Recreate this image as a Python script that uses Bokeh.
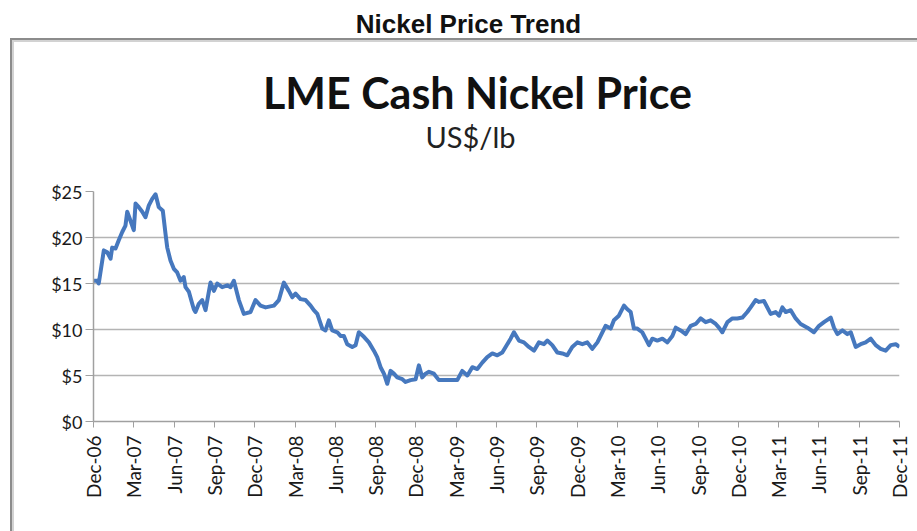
from math import pi
from bokeh.plotting import figure
from bokeh.models import FixedTicker, Range1d, LinearAxis
from bokeh.embed import file_html
from bokeh.resources import INLINE

# months elapsed since Dec-2006
month_offsets = [
    0.00, 0.28, 0.39, 0.77, 1.02, 1.27, 1.39, 1.64, 1.88, 2.14, 2.38, 2.51, 2.76, 3.00,
    3.13, 3.37, 3.63, 3.87, 4.12, 4.37, 4.62, 4.86, 5.16, 5.36, 5.49, 5.73, 5.98, 6.23,
    6.48, 6.72, 6.85, 7.10, 7.35, 7.47, 7.59, 7.84, 8.09, 8.34, 8.71, 8.96, 9.21, 9.58,
    9.96, 10.20, 10.45, 10.82, 11.19, 11.69, 12.06, 12.43, 12.81, 13.43, 13.80, 14.17,
    14.54, 14.80, 15.04, 15.41, 15.79, 16.16, 16.40, 16.66, 17.03, 17.27, 17.52, 17.77,
    18.15, 18.39, 18.64, 18.89, 19.26, 19.51, 19.75, 20.13, 20.50, 20.87, 21.12, 21.37,
    21.62, 21.87, 22.11, 22.36, 22.61, 22.99, 23.23, 23.60, 23.98, 24.22, 24.47, 24.72,
    24.97, 25.34, 25.71, 26.21, 26.71, 27.08, 27.45, 27.83, 28.20, 28.57, 28.94, 29.31,
    29.69, 30.06, 30.43, 30.68, 31.05, 31.30, 31.67, 32.04, 32.41, 32.79, 33.16, 33.53,
    33.78, 34.15, 34.53, 34.90, 35.27, 35.64, 36.02, 36.39, 36.76, 37.13, 37.51, 37.88,
    38.12, 38.50, 38.74, 39.11, 39.49, 39.74, 39.99, 40.23, 40.48, 40.85, 41.10, 41.35,
    41.60, 41.97, 42.35, 42.72, 43.09, 43.34, 43.71, 44.08, 44.46, 44.83, 45.20, 45.57,
    45.94, 46.32, 46.56, 46.81, 47.19, 47.56, 47.93, 48.30, 48.67, 48.92, 49.29, 49.54,
    49.91, 50.41, 50.78, 51.03, 51.28, 51.53, 51.90, 52.27, 52.64, 53.14, 53.63, 54.01,
    54.38, 54.88, 55.12, 55.38, 55.75, 56.12, 56.37, 56.74, 57.11, 57.48, 57.86, 58.23,
    58.60, 58.97, 59.35, 59.72, 60.00,
]
prices = [
    15.3, 15.3, 15.0, 18.6, 18.4, 17.7, 18.9, 18.8, 19.7, 20.6, 21.3, 22.8, 21.8, 20.8,
    23.7, 23.3, 22.8, 22.2, 23.5, 24.2, 24.7, 23.3, 22.9, 20.4, 18.9, 17.5, 16.6, 16.2,
    15.3, 15.7, 14.6, 14.1, 12.8, 12.2, 11.9, 12.8, 13.2, 12.1, 15.1, 14.2, 15.0, 14.6,
    14.8, 14.6, 15.3, 13.2, 11.7, 11.9, 13.2, 12.6, 12.4, 12.6, 13.2, 15.1,
    14.2, 13.5, 13.9, 13.3, 13.2, 12.6, 12.1, 11.7, 10.1, 9.9, 11.0, 9.9,
    9.7, 9.3, 9.3, 8.4, 8.1, 8.3, 9.7, 9.2, 8.6, 7.7, 7.0, 5.9,
    5.2, 4.1, 5.5, 5.2, 4.8, 4.6, 4.3, 4.5, 4.6, 6.1, 4.8, 5.2,
    5.4, 5.2, 4.5, 4.5, 4.5, 4.5, 5.5, 5.0, 5.9, 5.7, 6.4, 7.0,
    7.4, 7.2, 7.5, 8.1, 9.0, 9.7, 8.8, 8.6, 8.1, 7.7, 8.6, 8.4,
    8.8, 8.3, 7.5, 7.4, 7.2, 8.1, 8.6, 8.4, 8.6, 7.9, 8.6, 9.7,
    10.4, 10.1, 11.0, 11.5, 12.6, 12.2, 11.9, 10.1, 10.1, 9.7, 9.0, 8.3,
    9.0, 8.8, 9.0, 8.6, 9.3, 10.2, 9.9, 9.5, 10.4, 10.6, 11.2, 10.8,
    11.0, 10.6, 10.2, 9.7, 10.8, 11.2, 11.2, 11.3, 11.9, 12.4, 13.2, 13.0,
    13.1, 11.7, 11.9, 11.5, 12.4, 11.9, 12.1, 11.2, 10.6, 10.2, 9.7, 10.4,
    10.8, 11.3, 10.2, 9.5, 9.9, 9.5, 9.7, 8.1, 8.4, 8.6, 9.0, 8.3,
    7.9, 7.7, 8.3, 8.4, 8.1,
]

x_tick_months = list(range(0, 61, 3))
x_tick_labels = [
    "Dec-06", "Mar-07", "Jun-07", "Sep-07", "Dec-07", "Mar-08", "Jun-08",
    "Sep-08", "Dec-08", "Mar-09", "Jun-09", "Sep-09", "Dec-09", "Mar-10",
    "Jun-10", "Sep-10", "Dec-10", "Mar-11", "Jun-11", "Sep-11", "Dec-11",
]
y_ticks = [0, 5, 10, 15, 20, 25]
y_tick_labels = ["$0", "$5", "$10", "$15", "$20", "$25"]

page_title = "Nickel Price Trend"
chart_title = "LME Cash Nickel Price"
chart_subtitle = "US$/lb"

FONT = "Lato"
FRAME_LEFT, FRAME_RIGHT = 93, 899

BOX_CSS = (
    "linear-gradient(#8c8c8c,#8c8c8c) 10px 38px / 2px 700px no-repeat, "
    "linear-gradient(#8c8c8c,#8c8c8c) 10px 38px / 1200px 2px no-repeat, "
    "linear-gradient(#d2d2d2,#d2d2d2) 12px 40px / 2px 700px no-repeat, "
    "linear-gradient(#d2d2d2,#d2d2d2) 12px 40px / 1200px 2px no-repeat, "
    "#ffffff"
)

p = figure(
    width=917, height=531, output_backend="svg", toolbar_location=None,
    x_range=Range1d(0, 60), y_range=Range1d(0, 25),
    min_border_left=FRAME_LEFT, min_border_right=917 - FRAME_RIGHT,
    min_border_top=191, min_border_bottom=110,
    background_fill_color="white", border_fill_color=None,
    styles={"background": BOX_CSS},
)
p.outline_line_color = None
p.extra_x_ranges = {"px": Range1d(FRAME_LEFT, FRAME_RIGHT)}

p.line(month_offsets, prices, line_width=4, line_color="#4678BE", line_join="round")

# x axis
p.xaxis.ticker = FixedTicker(ticks=x_tick_months)
p.xaxis.major_label_overrides = {m: t for m, t in zip(x_tick_months, x_tick_labels)}
p.xaxis.major_label_orientation = pi / 2
p.xaxis.major_label_text_font = FONT
p.xaxis.major_label_text_font_size = "19px"
p.xaxis.major_label_text_color = "#1a1a1a"
p.xaxis.major_label_standoff = 8
p.xaxis.axis_line_color = "#a0a0a0"
p.xaxis.axis_line_width = 1.5
p.xaxis.major_tick_line_color = "#a0a0a0"
p.xaxis.major_tick_out = 6
p.xaxis.major_tick_in = 0
p.xaxis.minor_tick_line_color = None

# y axis
p.yaxis.ticker = FixedTicker(ticks=y_ticks)
p.yaxis.major_label_overrides = {v: t for v, t in zip(y_ticks, y_tick_labels)}
p.yaxis.major_label_text_font = FONT
p.yaxis.major_label_text_font_size = "18px"
p.yaxis.major_label_text_color = "#1a1a1a"
p.yaxis.major_label_standoff = 3
p.yaxis.axis_line_color = "#a0a0a0"
p.yaxis.axis_line_width = 1.5
p.yaxis.major_tick_line_color = "#a0a0a0"
p.yaxis.major_tick_out = 8
p.yaxis.major_tick_in = 0
p.yaxis.minor_tick_line_color = None

p.xgrid.grid_line_color = None
p.ygrid.grid_line_color = "#b4b4b4"
p.ygrid.grid_line_width = 1.5


def title_axis(text, center_px, gap, font, size, bold, color="#111111"):
    ax = LinearAxis(x_range_name="px", ticker=FixedTicker(ticks=[center_px]),
                    major_label_overrides={center_px: text},
                    axis_line_color=None, major_tick_line_color=None,
                    minor_tick_line_color=None, major_tick_out=0, major_tick_in=0,
                    major_label_standoff=gap,
                    major_label_text_font=font, major_label_text_font_size=size,
                    major_label_text_font_style="bold" if bold else "normal",
                    major_label_text_color=color)
    p.add_layout(ax, "above")


# stacked upward from the plot frame
title_axis(chart_subtitle, 470, 38, FONT, "29px", False, "#222222")
title_axis(chart_title, 477, -2, FONT, "43px", True)
title_axis(page_title, 468, 25, "Liberation Sans", "26px", True)

open("out.html", "w").write(file_html(p, INLINE))
